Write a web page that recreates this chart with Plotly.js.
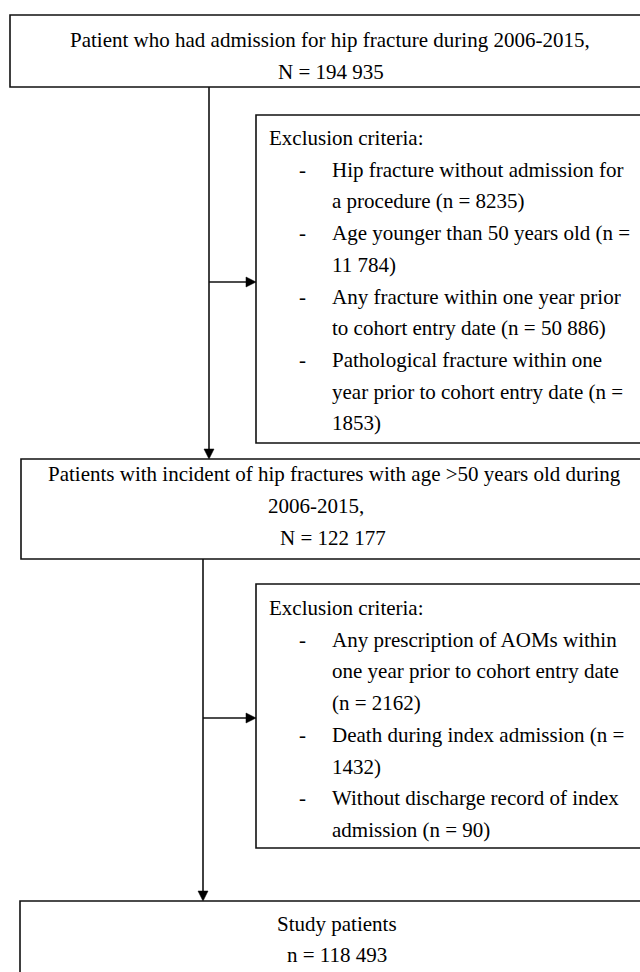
<!DOCTYPE html>
<html>
<head>
<meta charset="utf-8">
<script src="https://cdn.plot.ly/plotly-3.0.1.min.js"></script>
<style>html,body{margin:0;padding:0;background:#fff;}#chart{width:640px;height:972px;}</style>
</head>
<body>
<div id="chart"></div>
<script>
// ---- content ----
const box1Lines = ["Patient who had admission for hip fracture during 2006-2015,", "N = 194 935"];
const excl1Title = "Exclusion criteria:";
const excl1Items = [
  ["Hip fracture without admission for", "a procedure (n = 8235)"],
  ["Age younger than 50 years old (n =", "11 784)"],
  ["Any fracture within one year prior", "to cohort entry date (n = 50 886)"],
  ["Pathological fracture within one", "year prior to cohort entry date (n =", "1853)"]
];
const box2Lines = ["Patients with incident of hip fractures with age >50 years old during", "2006-2015,", "N = 122 177"];
const excl2Title = "Exclusion criteria:";
const excl2Items = [
  ["Any prescription of AOMs within", "one year prior to cohort entry date", "(n = 2162)"],
  ["Death during index admission (n =", "1432)"],
  ["Without discharge record of index", "admission (n = 90)"]
];
const box3Lines = ["Study patients", "n = 118 493"];

// ---- layout geometry (pixels) ----
const FONT = {family: "Liberation Serif, Times New Roman, serif", size: 21, color: "#000"};
const LINE = {color: "#111", width: 1.6};
const LH = 31.7;

const annotations = [];
const shapes = [];

function txt(x, y, t, anchor) {
  annotations.push({x: x, y: y, xref: "x", yref: "y", text: t, showarrow: false,
    xanchor: anchor || "center", yanchor: "middle", font: FONT});
}
function rect(x0, y0, x1, y1) {
  shapes.push({type: "rect", xref: "x", yref: "y", x0: x0, y0: y0, x1: x1, y1: y1, line: LINE, fillcolor: "rgba(0,0,0,0)"});
}
function seg(x0, y0, x1, y1) {
  shapes.push({type: "line", xref: "x", yref: "y", x0: x0, y0: y0, x1: x1, y1: y1, line: LINE});
}
function headDown(x, y) {
  shapes.push({type: "path", xref: "x", yref: "y", path: `M ${x-5} ${y-10} L ${x+5} ${y-10} L ${x} ${y} Z`, fillcolor: "#000", line: {color: "#000", width: 0.5}});
}
function headRight(x, y) {
  shapes.push({type: "path", xref: "x", yref: "y", path: `M ${x-10} ${y-5} L ${x-10} ${y+5} L ${x} ${y} Z`, fillcolor: "#000", line: {color: "#000", width: 0.5}});
}

// Box 1
rect(10, 15, 680, 87);
const box1X = [330, 331];
box1Lines.forEach((t, i) => txt(box1X[i], 40 + i * 32, t));

// Exclusion box 1
rect(256, 115, 680, 443);
txt(267, 138, excl1Title, "left");
let row = 1;
excl1Items.forEach(item => {
  item.forEach((t, j) => {
    const y = 138 + row * LH;
    if (j === 0) txt(302, y, "-", "center");
    txt(330, y, t, "left");
    row++;
  });
});

// connectors 1
seg(209, 87, 209, 449);
headDown(209, 459);
seg(209, 282, 248, 282);
headRight(256, 282);

// Box 2
rect(21, 459, 680, 559);
const box2X = [334, 316, 333];
box2Lines.forEach((t, i) => txt(box2X[i], 474 + i * 32, t));

// Exclusion box 2
rect(256, 584, 680, 848);
txt(267, 608, excl2Title, "left");
row = 1;
excl2Items.forEach(item => {
  item.forEach((t, j) => {
    const y = 608 + row * LH;
    if (j === 0) txt(302, y, "-", "center");
    txt(330, y, t, "left");
    row++;
  });
});

// connectors 2
seg(203, 559, 203, 892);
headDown(203, 901);
seg(203, 718, 248, 718);
headRight(256, 718);

// Box 3
rect(20, 901, 680, 1000);
box3Lines.forEach((t, i) => txt(337, 924 + i * 31, t));

const layout = {
  width: 640, height: 972,
  margin: {l: 0, r: 0, t: 0, b: 0},
  paper_bgcolor: "#fff", plot_bgcolor: "#fff",
  xaxis: {range: [0, 640], visible: false, fixedrange: true},
  yaxis: {range: [972, 0], visible: false, fixedrange: true},
  showlegend: false,
  shapes: shapes,
  annotations: annotations
};
Plotly.newPlot("chart", [], layout, {staticPlot: true, displayModeBar: false});
</script>
</body>
</html>
